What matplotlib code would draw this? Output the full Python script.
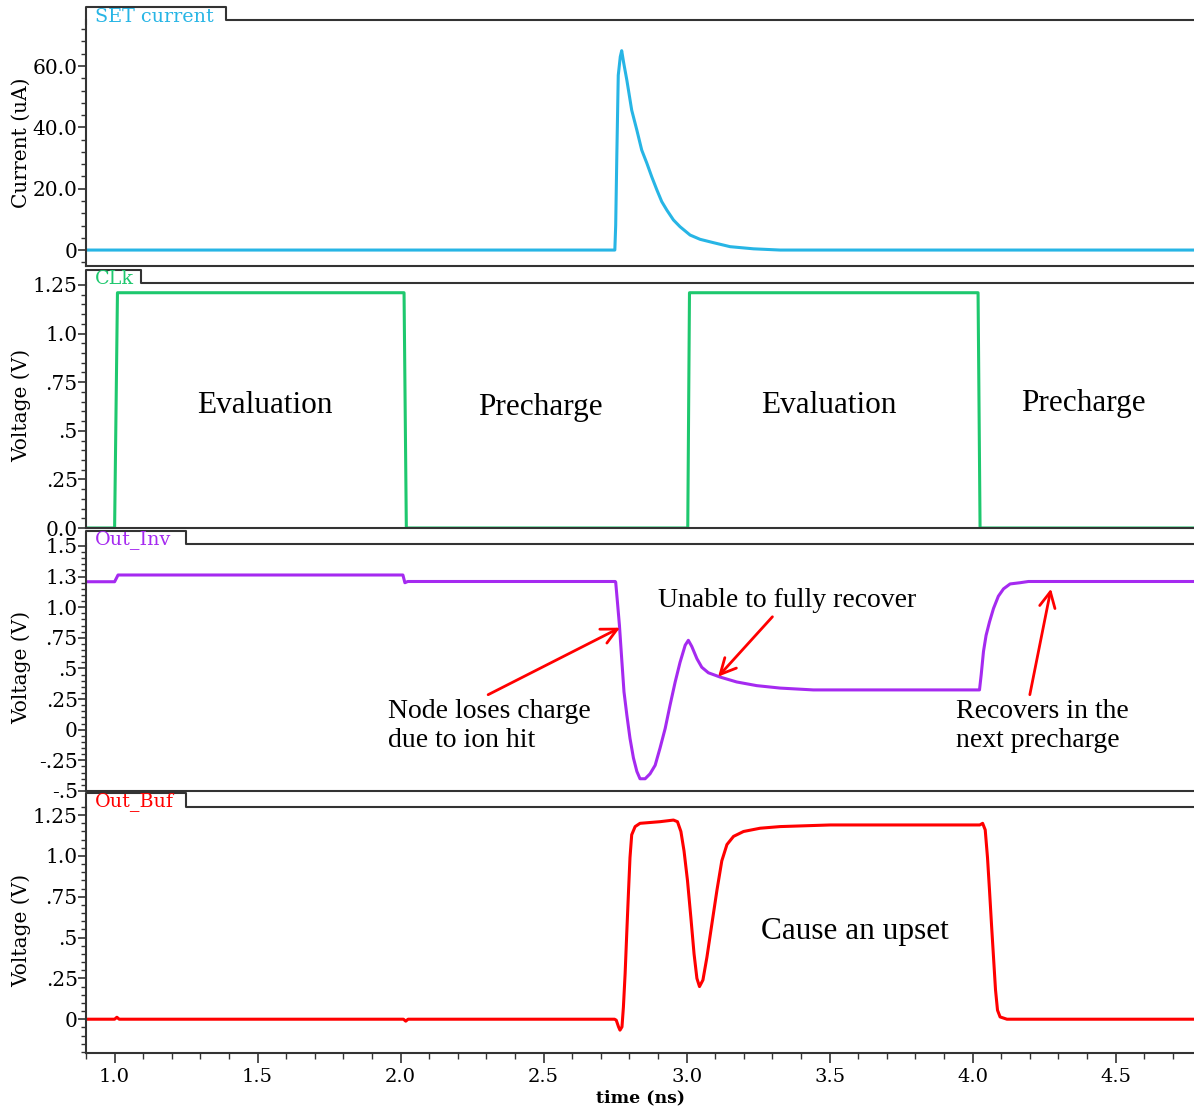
import matplotlib
matplotlib.use("Agg")
import matplotlib.pyplot as plt
from matplotlib.lines import Line2D
from matplotlib.ticker import AutoMinorLocator, FixedLocator

W, H = 1194, 1110

# SET current (uA)
set_t = [0.90, 2.749, 2.752, 2.756, 2.761, 2.768, 2.773, 2.780, 2.791, 2.808, 2.826,
         2.843, 2.861, 2.878, 2.896, 2.913, 2.931, 2.954, 2.977, 3.012, 3.047, 3.094,
         3.152, 3.234, 3.327, 4.78]
set_i = [0.0, 0.0, 8.0, 31.0, 57.0, 63.0, 65.0, 61.0, 55.4, 45.6, 39.1,
         32.6, 28.3, 23.9, 19.6, 15.8, 13.0, 9.8, 7.6, 4.9, 3.5, 2.4,
         1.1, 0.4, 0.0, 0.0]

# CLK (V)
clk_t = [0.90, 1.000, 1.010, 2.012, 2.020, 3.004, 3.010, 4.019, 4.026, 4.78]
clk_v = [0.00, 0.00, 1.21, 1.21, 0.00, 0.00, 1.21, 1.21, 0.00, 0.00]

# Out_Inv (V)
inv_t = [0.90, 1.000, 1.012, 2.008, 2.015, 2.025, 2.750, 2.752, 2.758, 2.765, 2.773,
         2.781, 2.791, 2.802, 2.814, 2.826, 2.837, 2.855, 2.872, 2.890, 2.907, 2.925,
         2.942, 2.960, 2.977, 2.995, 3.006, 3.018, 3.036, 3.053, 3.076, 3.117, 3.175,
         3.245, 3.327, 3.443, 4.024, 4.030, 4.038, 4.047, 4.059, 4.073, 4.090, 4.108,
         4.131, 4.166, 4.195, 4.78]
inv_v = [1.208, 1.208, 1.263, 1.263, 1.200, 1.210, 1.210, 1.205, 1.045, 0.855, 0.580,
         0.310, 0.120, -0.070, -0.230, -0.340, -0.400, -0.400, -0.360, -0.290, -0.150, 0.010,
         0.200, 0.390, 0.550, 0.690, 0.730, 0.680, 0.580, 0.510, 0.465, 0.430, 0.390,
         0.360, 0.340, 0.325, 0.325, 0.450, 0.640, 0.770, 0.880, 0.990, 1.090, 1.150,
         1.190, 1.200, 1.210, 1.210]

# Out_Buf (V)
buf_t = [0.90, 1.000, 1.008, 1.016, 2.010, 2.018, 2.026, 2.748, 2.754, 2.762, 2.767,
         2.774, 2.779, 2.785, 2.791, 2.797, 2.802, 2.808, 2.820, 2.837, 2.907, 2.954,
         2.968, 2.980, 2.991, 3.003, 3.015, 3.026, 3.036, 3.045, 3.057, 3.071, 3.088,
         3.106, 3.123, 3.141, 3.164, 3.199, 3.257, 3.327, 3.502, 4.025, 4.035, 4.044,
         4.052, 4.059, 4.066, 4.073, 4.080, 4.087, 4.096, 4.120, 4.78]
buf_v = [0.0, 0.0, 0.012, 0.0, 0.0, -0.012, 0.0, 0.0, -0.006, -0.047, -0.067,
         -0.047, 0.075, 0.280, 0.540, 0.790, 0.990, 1.130, 1.180, 1.200, 1.210, 1.220,
         1.210, 1.150, 1.030, 0.850, 0.620, 0.400, 0.250, 0.200, 0.240, 0.380, 0.580,
         0.790, 0.970, 1.070, 1.120, 1.150, 1.170, 1.180, 1.190, 1.190, 1.200, 1.160,
         0.990, 0.790, 0.580, 0.380, 0.180, 0.055, 0.014, 0.0, 0.0]

XLIM = (0.90, 4.774)
SPINE = "#333333"
SERIF = "DejaVu Serif"
ANNOT = "Liberation Serif"

plt.rcParams["font.family"] = SERIF

fig = plt.figure(figsize=(W / 100, H / 100), dpi=100)
fig.patch.set_facecolor("white")


def px_rect(top, bottom, left=86, right=1194):
    return [left / W, 1 - bottom / H, (right - left) / W, (bottom - top) / H]


def draw_tab(ax, tab_top, axes_top, tab_right, label, color, text_y):
    # name tab on the top edge, replaces the top spine
    kw = dict(transform=fig.transFigure, color=SPINE, lw=1.5, clip_on=False, zorder=9)
    xs = [86 / W, 86 / W, tab_right / W, tab_right / W, 1.0]
    ys = [1 - (axes_top + 4) / H, 1 - tab_top / H, 1 - tab_top / H,
          1 - axes_top / H, 1 - axes_top / H]
    ax.add_artist(Line2D(xs, ys, **kw))
    ax.text(95 / W, 1 - text_y / H, label, color=color, fontsize=13.8,
            va="center", ha="left", family=SERIF, transform=fig.transFigure,
            clip_on=False, zorder=10)


def style_axes(ax, ylim, yticks, ylabels, ylabel, show_x=False):
    ax.set_xlim(*XLIM)
    ax.set_ylim(*ylim)
    ax.yaxis.set_major_locator(FixedLocator(yticks))
    ax.set_yticklabels(ylabels)
    ax.yaxis.set_minor_locator(AutoMinorLocator(5))
    ax.spines["right"].set_visible(False)
    ax.spines["top"].set_visible(False)
    for side in ["left", "bottom"]:
        ax.spines[side].set_color(SPINE)
        ax.spines[side].set_linewidth(1.5)
    ax.tick_params(axis="y", which="major", direction="out", length=6, width=1.2,
                   color=SPINE, labelsize=14.5, pad=0)
    ax.tick_params(axis="y", which="minor", direction="out", length=3.5, width=1.0,
                   color=SPINE)
    ax.set_ylabel(ylabel, fontsize=14.5)
    ax.yaxis.set_label_coords((21 - 86) / 1108, 0.5)
    ax.yaxis.label.set_va("center")
    if show_x:
        ax.set_xticks([1.0, 1.5, 2.0, 2.5, 3.0, 3.5, 4.0, 4.5])
        ax.set_xticklabels(["1.0", "1.5", "2.0", "2.5", "3.0", "3.5", "4.0", "4.5"])
        ax.xaxis.set_minor_locator(AutoMinorLocator(5))
        ax.tick_params(axis="x", which="major", direction="out", length=7, width=1.2,
                       color=SPINE, labelsize=14, pad=4)
        ax.tick_params(axis="x", which="minor", direction="out", length=4, width=1.0,
                       color=SPINE)
    else:
        ax.tick_params(axis="x", which="both", bottom=False, labelbottom=False)


# Panel 1: SET current
ax1 = fig.add_axes(px_rect(20, 266))
ax1.plot(set_t, set_i, color="#27b5e5", lw=2.2)
style_axes(ax1, (-5.2, 75.0), [0, 20, 40, 60], ["0", "20.0", "40.0", "60.0"],
           "Current (uA)")
draw_tab(ax1, 7, 20, 226, "SET current", "#27b5e5", 17)

# Panel 2: CLK
ax2 = fig.add_axes(px_rect(283, 528))
ax2.plot(clk_t, clk_v, color="#1ec86e", lw=2.2)
style_axes(ax2, (0.0, 1.26), [0, 0.25, 0.5, 0.75, 1.0, 1.25],
           ["0.0", ".25", ".5", ".75", "1.0", "1.25"], "Voltage (V)")
draw_tab(ax2, 270, 283, 141, "CLk", "#1ec86e", 279)
for tx, ty, s in [(1.527, 0.63, "Evaluation"), (2.488, 0.62, "Precharge"),
                  (3.498, 0.63, "Evaluation"), (4.387, 0.64, "Precharge")]:
    ax2.text(tx, ty, s, fontsize=22.5, family=ANNOT, ha="center", va="center")

# Panel 3: Out_Inv
ax3 = fig.add_axes(px_rect(544, 791))
ax3.plot(inv_t, inv_v, color="#a52af0", lw=2.2)
style_axes(ax3, (-0.5, 1.516), [-0.5, -0.25, 0, 0.25, 0.5, 0.75, 1.0, 1.25, 1.5],
           ["-.5", "-.25", "0", ".25", ".5", ".75", "1.0", "1.3", "1.5"], "Voltage (V)")
draw_tab(ax3, 531, 544, 186, "Out_Inv", "#a52af0", 540)

arrow_kw = dict(arrowstyle="->", color="red", lw=2, mutation_scale=28,
                shrinkA=0, shrinkB=0)
ax3.annotate("", xy=(2.767, 0.833), xytext=(2.306, 0.286), arrowprops=arrow_kw)
ax3.annotate("", xy=(3.11, 0.433), xytext=(3.30, 0.922), arrowprops=arrow_kw)
ax3.annotate("", xy=(4.274, 1.151), xytext=(4.20, 0.286), arrowprops=arrow_kw)
ax3.text(3.352, 1.053, "Unable to fully recover", fontsize=20, family=ANNOT,
         ha="center", va="center")
ax3.text(2.31, 0.03, "Node loses charge\ndue to ion hit", fontsize=20, family=ANNOT,
         ha="center", va="center", linespacing=1.25, multialignment="left")
ax3.text(4.244, 0.03, "Recovers in the\nnext precharge", fontsize=20, family=ANNOT,
         ha="center", va="center", linespacing=1.25, multialignment="left")

# Panel 4: Out_Buf
ax4 = fig.add_axes(px_rect(807, 1053))
ax4.plot(buf_t, buf_v, color="#ff0000", lw=2.2)
style_axes(ax4, (-0.207, 1.30), [0, 0.25, 0.5, 0.75, 1.0, 1.25],
           ["0", ".25", ".5", ".75", "1.0", "1.25"], "Voltage (V)", show_x=True)
draw_tab(ax4, 793, 807, 186, "Out_Buf", "#ff0000", 802)
ax4.text(3.589, 0.537, "Cause an upset", fontsize=22.5, family=ANNOT,
         ha="center", va="center")
ax4.set_xlabel("time (ns)", fontsize=12.5, fontweight="bold", labelpad=2)

fig.savefig("out.png", dpi=100, facecolor="white")
